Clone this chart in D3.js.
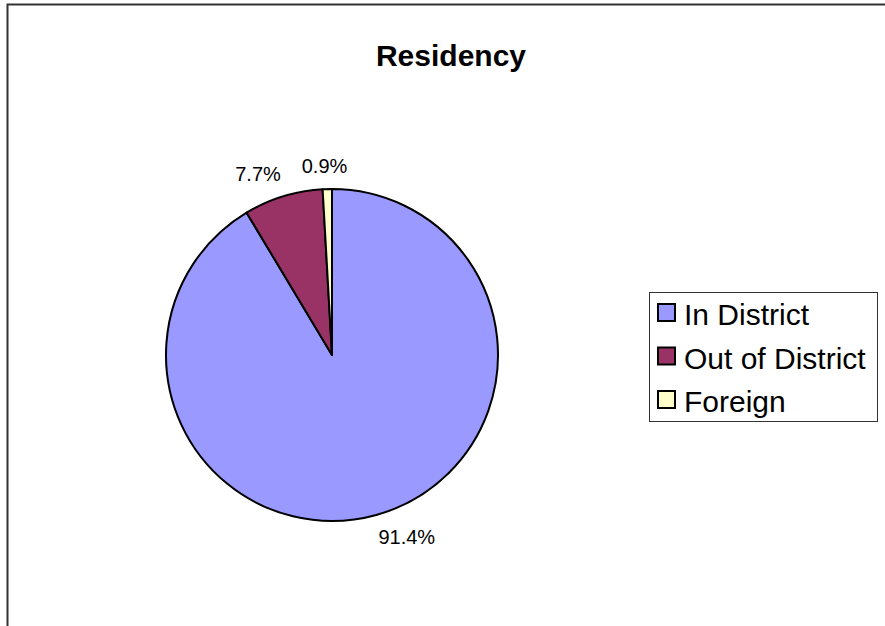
<!DOCTYPE html>
<html>
<head>
<meta charset="utf-8">
<script src="https://cdn.jsdelivr.net/npm/d3@7"></script>
<style>
  body { margin: 0; background: #fff; }
  text { font-family: Arial, "Liberation Sans", sans-serif; }
</style>
</head>
<body>
<script>
// Chart data
var categories = ["In District", "Out of District", "Foreign"];
var shares = [91.4, 7.7, 0.9];
var colors = ["#9999FF", "#993366", "#FFFFCC"];

var width = 885, height = 626;

var svg = d3.select("body").append("svg")
    .attr("width", width)
    .attr("height", height);

// chart frame (only top and left edges are visible)
svg.append("path")
    .attr("d", "M7.5,626 V4.5 H885")
    .attr("fill", "none")
    .attr("stroke", "#333")
    .attr("stroke-width", 2);

// Title
svg.append("text")
    .attr("x", 451)
    .attr("y", 66)
    .attr("text-anchor", "middle")
    .style("font-size", "30px")
    .style("font-weight", "bold")
    .text("Residency");

// Pie
var cx = 332, cy = 355, radius = 166;
var pie = d3.pie().sort(null).value(function(d) { return d; });
var arc = d3.arc().innerRadius(0).outerRadius(radius);
var arcs = pie(shares);

var g = svg.append("g").attr("transform", "translate(" + cx + "," + cy + ")");

g.selectAll(".slice")
  .data(arcs)
  .enter()
  .append("path")
  .attr("class", "slice")
  .attr("d", arc)
  .attr("fill", function(d, i) { return colors[i]; })
  .attr("stroke", "#000")
  .attr("stroke-width", 2)
  .attr("stroke-linejoin", "round");

// Percent labels, placed just outside the slice ends
var labelSize = 20;
g.selectAll(".pct")
  .data(arcs)
  .enter()
  .append("text")
  .attr("class", "pct")
  .style("font-size", labelSize + "px")
  .attr("text-anchor", "middle")
  .text(function(d) { return d.data.toFixed(1) + "%"; })
  .each(function(d) {
    var a = (d.startAngle + d.endAngle) / 2;
    var sx = Math.sin(a), sy = -Math.cos(a);
    var px = sx * (radius + 8), py = sy * (radius + 8);
    var w = this.getComputedTextLength();
    var k = Math.max(-1, Math.min(1, sx * 4));
    var tx = px + k * w / 2;
    var ty = py + sy * 15;
    d3.select(this).attr("x", tx).attr("y", ty + labelSize * 0.35);
  });

// Legend
var legend = svg.append("g").attr("transform", "translate(649,292)");
legend.append("rect")
    .attr("x", 0.5)
    .attr("y", 0.5)
    .attr("width", 228)
    .attr("height", 129)
    .attr("fill", "#fff")
    .attr("stroke", "#333")
    .attr("stroke-width", 1);

var items = legend.selectAll(".item")
  .data(categories)
  .enter()
  .append("g")
  .attr("class", "item")
  .attr("transform", function(d, i) { return "translate(0," + (i * 43.5) + ")"; });

items.append("rect")
    .attr("x", 9)
    .attr("y", 12)
    .attr("width", 17)
    .attr("height", 17)
    .attr("fill", function(d, i) { return colors[i]; })
    .attr("stroke", "#000")
    .attr("stroke-width", 2);

items.append("text")
    .attr("x", 35)
    .attr("y", 33)
    .style("font-size", "30px")
    .text(function(d) { return d; });
</script>
</body>
</html>
